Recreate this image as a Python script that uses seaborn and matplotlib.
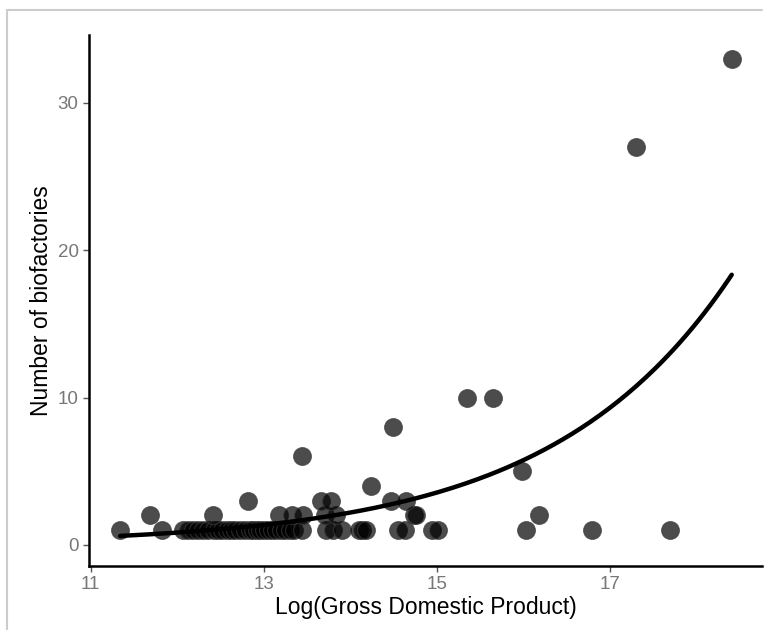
import numpy as np
import pandas as pd
import seaborn as sns
import matplotlib
matplotlib.use("Agg")
import matplotlib.pyplot as plt
from matplotlib.lines import Line2D

# ---- data ----
gdp_y1 = [11.34, 11.82, 12.07, 12.12, 12.18, 12.24, 12.30, 12.36, 12.42, 12.47,
          12.52, 12.57, 12.62, 12.67, 12.72, 12.78, 12.84, 12.88, 12.92, 12.96,
          13.00, 13.05, 13.10, 13.14, 13.20, 13.25, 13.30, 13.35, 13.44, 13.72,
          13.80, 13.90, 14.10, 14.14, 14.18, 14.55, 14.63, 14.94, 15.02, 16.03,
          16.80, 17.70]
gdp_y2 = [11.68, 12.41, 13.18, 13.33, 13.45, 13.71, 13.84, 14.74, 14.76, 16.18]
gdp_y3 = [12.82, 13.66, 13.78, 14.47, 14.65]
gdp_other = [14.24, 15.98, 13.44, 14.49, 15.35, 15.65, 17.30, 18.41]
count_other = [4, 5, 6, 8, 10, 10, 27, 33]

# fitted count-model curve, coefficients
fit_intercept = -5.952
fit_slope = 0.4813

log_gdp = gdp_y1 + gdp_y2 + gdp_y3 + gdp_other
biofactories = [1] * len(gdp_y1) + [2] * len(gdp_y2) + [3] * len(gdp_y3) + count_other
df = pd.DataFrame({"log_gdp": log_gdp, "n": biofactories})

xs = np.linspace(df["log_gdp"].min(), df["log_gdp"].max(), 200)
fit = pd.DataFrame({"log_gdp": xs, "n": np.exp(fit_intercept + fit_slope * xs)})

sns.set_theme(style="white")
plt.rcParams["font.family"] = ["Liberation Sans", "DejaVu Sans"]

fig = plt.figure(figsize=(7.74, 6.3), dpi=100)
ax = fig.add_axes([0.115, 0.1016, 0.8695, 0.8428])

sns.scatterplot(data=df, x="log_gdp", y="n", ax=ax, s=165, color="black",
                alpha=0.7, edgecolor="#3a3a3a", linewidth=0.8, zorder=2)
sns.lineplot(data=fit, x="log_gdp", y="n", ax=ax, color="black", linewidth=3.2,
             zorder=3)

ax.set_xlim(10.98, 18.76)
ax.set_ylim(-1.43, 34.6)
ax.set_xticks([11, 13, 15, 17])
ax.set_yticks([0, 10, 20, 30])
ax.set_xlabel("Log(Gross Domestic Product)", fontsize=16.5, color="black",
              labelpad=2)
ax.set_ylabel("Number of biofactories", fontsize=16.5, color="black",
              labelpad=3)
ax.tick_params(axis="both", colors="#555555", labelsize=13.5, length=4,
               width=1.0, direction="out", bottom=True, left=True)
ax.tick_params(axis="both", labelcolor="#777777")
for side in ["top", "right"]:
    ax.spines[side].set_visible(False)
for side in ["left", "bottom"]:
    ax.spines[side].set_color("black")
    ax.spines[side].set_linewidth(1.8)

# light frame of the screenshot
fig.add_artist(Line2D([0.009, 0.985], [0.984, 0.984], color="#cccccc", lw=1.5,
                      transform=fig.transFigure))
fig.add_artist(Line2D([0.009, 0.009], [0.0, 0.984], color="#cccccc", lw=1.5,
                      transform=fig.transFigure))

fig.savefig("out.png", dpi=100)
